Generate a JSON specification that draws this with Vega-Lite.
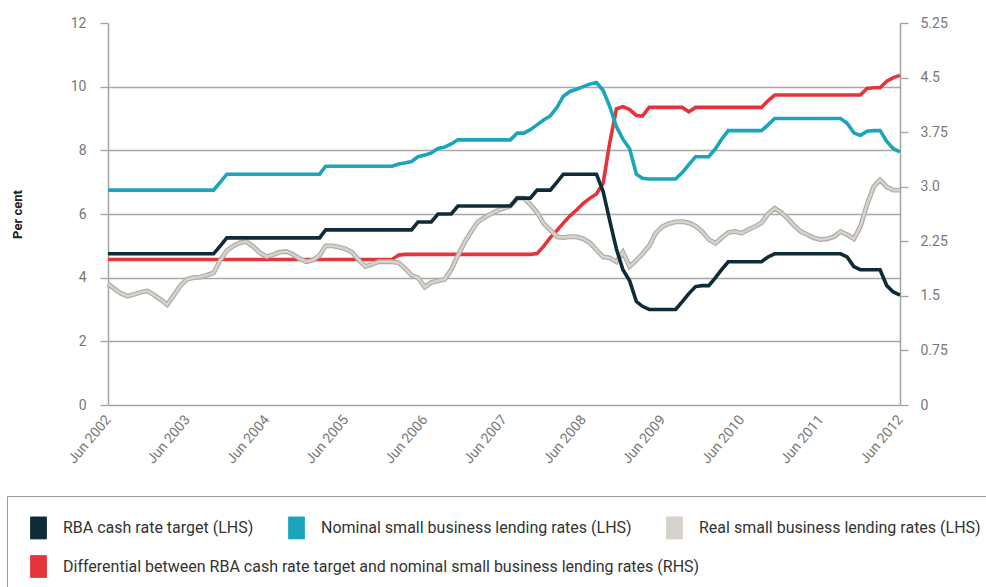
{
  "$schema": "https://vega.github.io/schema/vega-lite/v6.json",
  "width": 792,
  "height": 382,
  "autosize": {"type": "none"},
  "padding": {"left": 108, "top": 23, "right": 86, "bottom": 182},
  "background": "white",
  "config": {
    "view": {"stroke": null},
    "font": "Roboto"
  },
  "data": {
    "values": [
      {"d": "2002-06-01", "cash": 4.75, "nom": 6.75, "real": 3.80, "diff": 2.00},
      {"d": "2002-07-01", "cash": 4.75, "nom": 6.75, "real": 3.65, "diff": 2.00},
      {"d": "2002-08-01", "cash": 4.75, "nom": 6.75, "real": 3.50, "diff": 2.00},
      {"d": "2002-09-01", "cash": 4.75, "nom": 6.75, "real": 3.42, "diff": 2.00},
      {"d": "2002-10-01", "cash": 4.75, "nom": 6.75, "real": 3.48, "diff": 2.00},
      {"d": "2002-11-01", "cash": 4.75, "nom": 6.75, "real": 3.55, "diff": 2.00},
      {"d": "2002-12-01", "cash": 4.75, "nom": 6.75, "real": 3.58, "diff": 2.00},
      {"d": "2003-01-01", "cash": 4.75, "nom": 6.75, "real": 3.45, "diff": 2.00},
      {"d": "2003-02-01", "cash": 4.75, "nom": 6.75, "real": 3.30, "diff": 2.00},
      {"d": "2003-03-01", "cash": 4.75, "nom": 6.75, "real": 3.15, "diff": 2.00},
      {"d": "2003-04-01", "cash": 4.75, "nom": 6.75, "real": 3.45, "diff": 2.00},
      {"d": "2003-05-01", "cash": 4.75, "nom": 6.75, "real": 3.75, "diff": 2.00},
      {"d": "2003-06-01", "cash": 4.75, "nom": 6.75, "real": 3.95, "diff": 2.00},
      {"d": "2003-07-01", "cash": 4.75, "nom": 6.75, "real": 4.00, "diff": 2.00},
      {"d": "2003-08-01", "cash": 4.75, "nom": 6.75, "real": 4.02, "diff": 2.00},
      {"d": "2003-09-01", "cash": 4.75, "nom": 6.75, "real": 4.08, "diff": 2.00},
      {"d": "2003-10-01", "cash": 4.75, "nom": 6.75, "real": 4.15, "diff": 2.00},
      {"d": "2003-11-01", "cash": 5.00, "nom": 7.00, "real": 4.55, "diff": 2.00},
      {"d": "2003-12-01", "cash": 5.25, "nom": 7.25, "real": 4.85, "diff": 2.00},
      {"d": "2004-01-01", "cash": 5.25, "nom": 7.25, "real": 5.00, "diff": 2.00},
      {"d": "2004-02-01", "cash": 5.25, "nom": 7.25, "real": 5.10, "diff": 2.00},
      {"d": "2004-03-01", "cash": 5.25, "nom": 7.25, "real": 5.13, "diff": 2.00},
      {"d": "2004-04-01", "cash": 5.25, "nom": 7.25, "real": 4.98, "diff": 2.00},
      {"d": "2004-05-01", "cash": 5.25, "nom": 7.25, "real": 4.78, "diff": 2.00},
      {"d": "2004-06-01", "cash": 5.25, "nom": 7.25, "real": 4.66, "diff": 2.00},
      {"d": "2004-07-01", "cash": 5.25, "nom": 7.25, "real": 4.72, "diff": 2.00},
      {"d": "2004-08-01", "cash": 5.25, "nom": 7.25, "real": 4.80, "diff": 2.00},
      {"d": "2004-09-01", "cash": 5.25, "nom": 7.25, "real": 4.82, "diff": 2.00},
      {"d": "2004-10-01", "cash": 5.25, "nom": 7.25, "real": 4.73, "diff": 2.00},
      {"d": "2004-11-01", "cash": 5.25, "nom": 7.25, "real": 4.60, "diff": 2.00},
      {"d": "2004-12-01", "cash": 5.25, "nom": 7.25, "real": 4.50, "diff": 2.00},
      {"d": "2005-01-01", "cash": 5.25, "nom": 7.25, "real": 4.55, "diff": 2.00},
      {"d": "2005-02-01", "cash": 5.25, "nom": 7.25, "real": 4.70, "diff": 2.00},
      {"d": "2005-03-01", "cash": 5.50, "nom": 7.50, "real": 5.00, "diff": 2.00},
      {"d": "2005-04-01", "cash": 5.50, "nom": 7.50, "real": 5.00, "diff": 2.00},
      {"d": "2005-05-01", "cash": 5.50, "nom": 7.50, "real": 4.96, "diff": 2.00},
      {"d": "2005-06-01", "cash": 5.50, "nom": 7.50, "real": 4.90, "diff": 2.00},
      {"d": "2005-07-01", "cash": 5.50, "nom": 7.50, "real": 4.80, "diff": 2.00},
      {"d": "2005-08-01", "cash": 5.50, "nom": 7.50, "real": 4.55, "diff": 2.00},
      {"d": "2005-09-01", "cash": 5.50, "nom": 7.50, "real": 4.35, "diff": 2.00},
      {"d": "2005-10-01", "cash": 5.50, "nom": 7.50, "real": 4.42, "diff": 2.00},
      {"d": "2005-11-01", "cash": 5.50, "nom": 7.50, "real": 4.50, "diff": 2.00},
      {"d": "2005-12-01", "cash": 5.50, "nom": 7.50, "real": 4.50, "diff": 2.00},
      {"d": "2006-01-01", "cash": 5.50, "nom": 7.50, "real": 4.50, "diff": 2.00},
      {"d": "2006-02-01", "cash": 5.50, "nom": 7.57, "real": 4.47, "diff": 2.06},
      {"d": "2006-03-01", "cash": 5.50, "nom": 7.60, "real": 4.30, "diff": 2.07},
      {"d": "2006-04-01", "cash": 5.50, "nom": 7.65, "real": 4.08, "diff": 2.07},
      {"d": "2006-05-01", "cash": 5.75, "nom": 7.80, "real": 4.00, "diff": 2.07},
      {"d": "2006-06-01", "cash": 5.75, "nom": 7.85, "real": 3.70, "diff": 2.07},
      {"d": "2006-07-01", "cash": 5.75, "nom": 7.92, "real": 3.85, "diff": 2.07},
      {"d": "2006-08-01", "cash": 6.00, "nom": 8.06, "real": 3.90, "diff": 2.07},
      {"d": "2006-09-01", "cash": 6.00, "nom": 8.10, "real": 3.95, "diff": 2.07},
      {"d": "2006-10-01", "cash": 6.00, "nom": 8.20, "real": 4.25, "diff": 2.07},
      {"d": "2006-11-01", "cash": 6.25, "nom": 8.33, "real": 4.70, "diff": 2.07},
      {"d": "2006-12-01", "cash": 6.25, "nom": 8.33, "real": 5.10, "diff": 2.07},
      {"d": "2007-01-01", "cash": 6.25, "nom": 8.33, "real": 5.45, "diff": 2.07},
      {"d": "2007-02-01", "cash": 6.25, "nom": 8.33, "real": 5.75, "diff": 2.07},
      {"d": "2007-03-01", "cash": 6.25, "nom": 8.33, "real": 5.88, "diff": 2.07},
      {"d": "2007-04-01", "cash": 6.25, "nom": 8.33, "real": 6.00, "diff": 2.07},
      {"d": "2007-05-01", "cash": 6.25, "nom": 8.33, "real": 6.10, "diff": 2.07},
      {"d": "2007-06-01", "cash": 6.25, "nom": 8.33, "real": 6.18, "diff": 2.07},
      {"d": "2007-07-01", "cash": 6.25, "nom": 8.33, "real": 6.25, "diff": 2.07},
      {"d": "2007-08-01", "cash": 6.50, "nom": 8.54, "real": 6.50, "diff": 2.07},
      {"d": "2007-09-01", "cash": 6.50, "nom": 8.54, "real": 6.50, "diff": 2.07},
      {"d": "2007-10-01", "cash": 6.50, "nom": 8.65, "real": 6.30, "diff": 2.07},
      {"d": "2007-11-01", "cash": 6.75, "nom": 8.80, "real": 6.05, "diff": 2.08},
      {"d": "2007-12-01", "cash": 6.75, "nom": 8.95, "real": 5.70, "diff": 2.18},
      {"d": "2008-01-01", "cash": 6.75, "nom": 9.08, "real": 5.50, "diff": 2.30},
      {"d": "2008-02-01", "cash": 7.00, "nom": 9.35, "real": 5.28, "diff": 2.40},
      {"d": "2008-03-01", "cash": 7.25, "nom": 9.70, "real": 5.26, "diff": 2.50},
      {"d": "2008-04-01", "cash": 7.25, "nom": 9.85, "real": 5.29, "diff": 2.60},
      {"d": "2008-05-01", "cash": 7.25, "nom": 9.92, "real": 5.28, "diff": 2.68},
      {"d": "2008-06-01", "cash": 7.25, "nom": 10.00, "real": 5.22, "diff": 2.77},
      {"d": "2008-07-01", "cash": 7.25, "nom": 10.08, "real": 5.10, "diff": 2.84},
      {"d": "2008-08-01", "cash": 7.25, "nom": 10.13, "real": 4.87, "diff": 2.90},
      {"d": "2008-09-01", "cash": 6.70, "nom": 9.88, "real": 4.65, "diff": 3.05},
      {"d": "2008-10-01", "cash": 5.80, "nom": 9.38, "real": 4.62, "diff": 3.60},
      {"d": "2008-11-01", "cash": 4.90, "nom": 8.75, "real": 4.50, "diff": 4.07},
      {"d": "2008-12-01", "cash": 4.25, "nom": 8.35, "real": 4.80, "diff": 4.10},
      {"d": "2009-01-01", "cash": 3.90, "nom": 8.05, "real": 4.35, "diff": 4.06},
      {"d": "2009-02-01", "cash": 3.25, "nom": 7.25, "real": 4.55, "diff": 3.98},
      {"d": "2009-03-01", "cash": 3.10, "nom": 7.12, "real": 4.75, "diff": 3.97},
      {"d": "2009-04-01", "cash": 3.00, "nom": 7.10, "real": 5.00, "diff": 4.09},
      {"d": "2009-05-01", "cash": 3.00, "nom": 7.10, "real": 5.40, "diff": 4.09},
      {"d": "2009-06-01", "cash": 3.00, "nom": 7.10, "real": 5.60, "diff": 4.09},
      {"d": "2009-07-01", "cash": 3.00, "nom": 7.10, "real": 5.70, "diff": 4.09},
      {"d": "2009-08-01", "cash": 3.00, "nom": 7.10, "real": 5.75, "diff": 4.09},
      {"d": "2009-09-01", "cash": 3.25, "nom": 7.30, "real": 5.76, "diff": 4.09},
      {"d": "2009-10-01", "cash": 3.50, "nom": 7.55, "real": 5.72, "diff": 4.03},
      {"d": "2009-11-01", "cash": 3.72, "nom": 7.80, "real": 5.62, "diff": 4.09},
      {"d": "2009-12-01", "cash": 3.75, "nom": 7.80, "real": 5.45, "diff": 4.09},
      {"d": "2010-01-01", "cash": 3.75, "nom": 7.80, "real": 5.20, "diff": 4.09},
      {"d": "2010-02-01", "cash": 4.00, "nom": 8.05, "real": 5.08, "diff": 4.09},
      {"d": "2010-03-01", "cash": 4.25, "nom": 8.35, "real": 5.25, "diff": 4.09},
      {"d": "2010-04-01", "cash": 4.50, "nom": 8.62, "real": 5.42, "diff": 4.09},
      {"d": "2010-05-01", "cash": 4.50, "nom": 8.62, "real": 5.45, "diff": 4.09},
      {"d": "2010-06-01", "cash": 4.50, "nom": 8.62, "real": 5.40, "diff": 4.09},
      {"d": "2010-07-01", "cash": 4.50, "nom": 8.62, "real": 5.50, "diff": 4.09},
      {"d": "2010-08-01", "cash": 4.50, "nom": 8.62, "real": 5.60, "diff": 4.09},
      {"d": "2010-09-01", "cash": 4.50, "nom": 8.62, "real": 5.72, "diff": 4.09},
      {"d": "2010-10-01", "cash": 4.65, "nom": 8.80, "real": 6.00, "diff": 4.18},
      {"d": "2010-11-01", "cash": 4.75, "nom": 9.00, "real": 6.18, "diff": 4.26},
      {"d": "2010-12-01", "cash": 4.75, "nom": 9.00, "real": 6.05, "diff": 4.26},
      {"d": "2011-01-01", "cash": 4.75, "nom": 9.00, "real": 5.85, "diff": 4.26},
      {"d": "2011-02-01", "cash": 4.75, "nom": 9.00, "real": 5.62, "diff": 4.26},
      {"d": "2011-03-01", "cash": 4.75, "nom": 9.00, "real": 5.45, "diff": 4.26},
      {"d": "2011-04-01", "cash": 4.75, "nom": 9.00, "real": 5.35, "diff": 4.26},
      {"d": "2011-05-01", "cash": 4.75, "nom": 9.00, "real": 5.25, "diff": 4.26},
      {"d": "2011-06-01", "cash": 4.75, "nom": 9.00, "real": 5.20, "diff": 4.26},
      {"d": "2011-07-01", "cash": 4.75, "nom": 9.00, "real": 5.22, "diff": 4.26},
      {"d": "2011-08-01", "cash": 4.75, "nom": 9.00, "real": 5.28, "diff": 4.26},
      {"d": "2011-09-01", "cash": 4.75, "nom": 9.00, "real": 5.45, "diff": 4.26},
      {"d": "2011-10-01", "cash": 4.65, "nom": 8.85, "real": 5.35, "diff": 4.26},
      {"d": "2011-11-01", "cash": 4.35, "nom": 8.55, "real": 5.22, "diff": 4.26},
      {"d": "2011-12-01", "cash": 4.25, "nom": 8.47, "real": 5.60, "diff": 4.26},
      {"d": "2012-01-01", "cash": 4.25, "nom": 8.60, "real": 6.30, "diff": 4.35},
      {"d": "2012-02-01", "cash": 4.25, "nom": 8.62, "real": 6.86, "diff": 4.36},
      {"d": "2012-03-01", "cash": 4.25, "nom": 8.62, "real": 7.07, "diff": 4.36},
      {"d": "2012-04-01", "cash": 3.75, "nom": 8.28, "real": 6.85, "diff": 4.45},
      {"d": "2012-05-01", "cash": 3.55, "nom": 8.05, "real": 6.75, "diff": 4.50},
      {"d": "2012-06-01", "cash": 3.45, "nom": 7.95, "real": 6.75, "diff": 4.53}
    ]
  },
  "encoding": {
    "x": {
      "field": "d",
      "type": "temporal",
      "scale": {
        "type": "utc",
        "domain": [
          {"year": 2002, "month": 6, "date": 1, "utc": true},
          {"year": 2012, "month": 6, "date": 1, "utc": true}
        ],
        "nice": false
      },
      "axis": {
        "title": null,
        "values": [
          {"year": 2002, "month": 6, "date": 1, "utc": true},
          {"year": 2003, "month": 6, "date": 1, "utc": true},
          {"year": 2004, "month": 6, "date": 1, "utc": true},
          {"year": 2005, "month": 6, "date": 1, "utc": true},
          {"year": 2006, "month": 6, "date": 1, "utc": true},
          {"year": 2007, "month": 6, "date": 1, "utc": true},
          {"year": 2008, "month": 6, "date": 1, "utc": true},
          {"year": 2009, "month": 6, "date": 1, "utc": true},
          {"year": 2010, "month": 6, "date": 1, "utc": true},
          {"year": 2011, "month": 6, "date": 1, "utc": true},
          {"year": 2012, "month": 6, "date": 1, "utc": true}
        ],
        "format": "%b %Y",
        "labelAngle": -50,
        "labelAlign": "right",
        "labelBaseline": "middle",
        "labelPadding": 12,
        "labelFontSize": 14,
        "labelColor": "#777777",
        "labelOverlap": false,
        "labelFlush": false,
        "ticks": false,
        "grid": false,
        "domainColor": "#a3a3a3",
        "domainWidth": 1.5
      }
    }
  },
  "layer": [
    {
      "mark": {"type": "line", "strokeWidth": 3.6},
      "encoding": {
        "y": {
          "field": "diff",
          "type": "quantitative",
          "scale": {"domain": [0, 5.25], "nice": false, "zero": true},
          "axis": {
            "orient": "right",
            "title": null,
            "values": [0, 0.75, 1.5, 2.25, 3, 3.75, 4.5, 5.25],
            "labelExpr": "datum.value == 3 ? '3.0' : format(datum.value, '~g')",
            "grid": false,
            "tickSize": 8,
            "tickColor": "#a3a3a3",
            "tickWidth": 1.3,
            "domainColor": "#a3a3a3",
            "domainWidth": 1.5,
            "labelPadding": 12,
            "labelFontSize": 14,
            "labelColor": "#777777",
            "labelBaseline": "middle"
          }
        },
        "stroke": {
          "datum": "Differential between RBA cash rate target and nominal small business lending rates (RHS)",
          "type": "nominal",
          "scale": {
            "domain": ["Differential between RBA cash rate target and nominal small business lending rates (RHS)"],
            "range": ["#e5343a"]
          },
          "legend": {
            "title": null,
            "orient": "none",
            "legendX": -81,
            "legendY": 532,
            "zindex": 3,
            "labelFontSize": 16,
            "labelColor": "#333333",
            "labelLimit": 900,
            "labelOffset": 13,
            "padding": 0,
            "symbolType": "M-0.727,-1H0.727V1H-0.727Z",
            "symbolSize": 484,
            "encode": {
              "symbols": {
                "update": {
                  "fill": {"scale": "stroke", "field": "value"},
                  "stroke": {"value": "#9a9a9a"},
                  "strokeWidth": {"value": 0.8},
                  "opacity": {"value": 1}
                }
              }
            }
          }
        }
      }
    },
    {
      "layer": [
        {
          "mark": {"type": "line", "color": "#aea9a3", "strokeWidth": 4.8},
          "encoding": {
            "y": {
              "field": "real",
              "type": "quantitative",
              "scale": {"domain": [0, 12], "nice": false},
              "axis": {
                "orient": "left",
                "title": "Per cent",
                "titleFont": "Roboto",
                "titleFontWeight": "bold",
                "titleFontSize": 13,
                "titleColor": "#222222",
                "titlePadding": 46,
                "values": [0, 2, 4, 6, 8, 10, 12],
                "grid": true,
                "gridColor": "#a8a8a8",
                "gridWidth": 1.3,
                "gridOpacity": {"condition": {"test": "datum.value == 12 || datum.value == 0", "value": 0}, "value": 1},
                "tickSize": 8,
                "tickColor": "#a3a3a3",
                "tickWidth": 1.3,
                "domainColor": "#a3a3a3",
                "domainWidth": 1.5,
                "labelPadding": 14,
                "labelFontSize": 14,
                "labelColor": "#777777"
              }
            }
          }
        },
        {
          "mark": {"type": "line", "strokeWidth": 2.6},
          "encoding": {
            "y": {"field": "real", "type": "quantitative"},
            "color": {
              "datum": "Real small business lending rates (LHS)",
              "type": "nominal",
              "scale": {
                "domain": [
                  "RBA cash rate target (LHS)",
                  "Nominal small business lending rates (LHS)",
                  "Real small business lending rates (LHS)"
                ],
                "range": ["#0e2c38", "#1ba5bc", "#d6d2cc"]
              },
              "legend": {
                "title": " ",
                "titleOrient": "bottom",
                "titleFontSize": 24,
                "titlePadding": 12,
                "orient": "none",
                "legendX": -101,
                "legendY": 473,
                "zindex": 1,
                "direction": "horizontal",
                "labelFontSize": 16,
                "labelColor": "#333333",
                "labelLimit": 600,
                "labelOffset": 13,
                "columnPadding": 31,
                "padding": 20,
                "strokeColor": "#9a9a9a",
                "symbolType": "M-0.727,-1H0.727V1H-0.727Z",
                "symbolSize": 484,
                "encode": {
                  "symbols": {
                    "update": {
                      "fill": {"scale": "color", "field": "value"},
                      "stroke": {"value": "#9a9a9a"},
                      "strokeWidth": {"value": 0.8},
                      "opacity": {"value": 1}
                    }
                  }
                }
              }
            }
          }
        },
        {
          "mark": {"type": "line", "strokeWidth": 3.6},
          "encoding": {
            "y": {"field": "nom", "type": "quantitative"},
            "color": {"datum": "Nominal small business lending rates (LHS)", "type": "nominal"}
          }
        },
        {
          "mark": {"type": "line", "strokeWidth": 3.6},
          "encoding": {
            "y": {"field": "cash", "type": "quantitative"},
            "color": {"datum": "RBA cash rate target (LHS)", "type": "nominal"}
          }
        }
      ]
    }
  ],
  "resolve": {"scale": {"y": "independent"}}
}
